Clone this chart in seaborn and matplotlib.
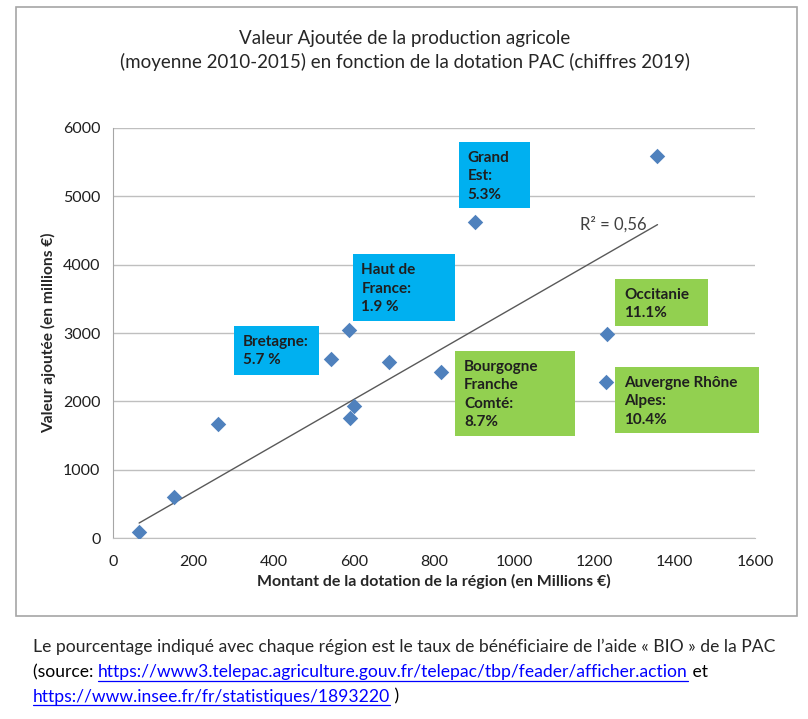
import matplotlib
matplotlib.use("Agg")
import matplotlib.pyplot as plt
import seaborn as sns
import numpy as np
import pandas as pd
from matplotlib.lines import Line2D
from matplotlib.patches import Rectangle

# values (millions €)
dotation = [65, 152, 261, 544, 587, 591, 601, 688, 817, 901, 1231, 1229, 1357]
valeur = [90, 605, 1665, 2625, 3040, 1750, 1930, 2580, 2435, 4620, 2990, 2285, 5585]

# region labels (text, colour group)
labels = ["Grand\nEst:\n5.3%", "Haut de\nFrance:\n1.9 %", "Bretagne:\n5.7 %",
          "Bourgogne\nFranche\nComté:\n8.7%", "Occitanie\n11.1%",
          "Auvergne Rhône\nAlpes:\n10.4%"]
label_groups = ["bleu", "bleu", "bleu", "vert", "vert", "vert"]

df = pd.DataFrame({"dotation": dotation, "valeur": valeur})

# Excel trend line with intercept forced to 0
pente = np.dot(df["dotation"], df["valeur"]) / np.dot(df["dotation"], df["dotation"])
tend = pd.DataFrame({"dotation": [df["dotation"].min(), df["dotation"].max()]})
tend["valeur"] = pente * tend["dotation"]

sns.set_style("white")
plt.rcParams["font.family"] = ["Lato", "DejaVu Sans"]

fig = plt.figure(figsize=(8.08, 7.19), dpi=100)
ax = fig.add_axes([0.1399, 0.2517, 0.7945, 0.5703])

sns.scatterplot(data=df, x="dotation", y="valeur", marker="D", s=62,
                color="#4F81BD", edgecolor="#4F81BD", linewidth=0, ax=ax, zorder=3)
sns.lineplot(data=tend, x="dotation", y="valeur", color="#595959", lw=1.0,
             ax=ax, zorder=2)

ax.set_xlim(0, 1600)
ax.set_ylim(0, 6000)
ax.set_xticks(range(0, 1601, 200))
ax.set_yticks(range(0, 6001, 1000))
ax.tick_params(axis="both", length=0, labelsize=11.5, colors="#1F1F1F")
ax.tick_params(axis="x", pad=12)
ax.tick_params(axis="y", pad=9)
ax.yaxis.grid(True, color="#BFBFBF", lw=1)
ax.xaxis.grid(False)
for s in ["top", "right"]:
    ax.spines[s].set_visible(False)
ax.spines["left"].set_color("#A6A6A6")
ax.spines["bottom"].set_color("#BFBFBF")

ax.set_xlabel("Montant de la dotation de la région (en Millions €)",
              fontsize=11.5, fontweight="bold", labelpad=4)
ax.set_ylabel("Valeur ajoutée (en millions €)", fontsize=11.2,
              fontweight="bold", labelpad=5)

ax.text(1165, 4583, "R² = 0,56", fontsize=12, color="#404040",
        ha="left", va="center")

colours = {"bleu": "#00B0F0", "vert": "#92D050"}
# label boxes: left, top, right, bottom (data coordinates)
boxes = [(862, 5795, 1039, 4830), (597, 4156, 853, 3180), (302, 3103, 513, 2390),
         (853, 2741, 1152, 1497), (1252, 3795, 1484, 3107), (1252, 2507, 1611, 1537)]
for txt, grp, (x0, y0, x1, y1) in zip(labels, label_groups, boxes):
    ax.add_patch(Rectangle((x0, y1), x1 - x0, y0 - y1, fc=colours[grp], ec="none",
                           zorder=4, clip_on=False))
    ax.text(x0 + 22, y0 - 130, txt, ha="left", va="top", fontsize=11,
            linespacing=1.42, fontweight="bold", color="#1F1F1F", zorder=5)

fig.text(0.501, 0.958, "Valeur Ajoutée de la production agricole\n"
         "(moyenne 2010-2015) en fonction de la dotation PAC (chiffres 2019)",
         ha="center", va="top", fontsize=13.5, linespacing=1.4)

# outer chart border
fig.patches.append(Rectangle((0.0192, 0.1433), 0.967, 0.8463, transform=fig.transFigure,
                             fill=False, ec="#A6A6A6", lw=1.2))

# caption with underlined links
fig.canvas.draw()
r = fig.canvas.get_renderer()
cap_size = 12.6
fig.text(0.041, 0.093, "Le pourcentage indiqué avec chaque région est le taux de "
         "bénéficiaire de l’aide « BIO » de la PAC", fontsize=cap_size,
         va="baseline", ha="left")


def put_pieces(pieces, x0, y0):
    x = x0
    for txt, link in pieces:
        t = fig.text(x, y0, txt, fontsize=cap_size, va="baseline", ha="left",
                     color="#0000FF" if link else "black")
        bb = t.get_window_extent(renderer=r).transformed(fig.transFigure.inverted())
        if link:
            fig.lines.append(Line2D([bb.x0, bb.x1], [y0 - 0.005, y0 - 0.005],
                                    transform=fig.transFigure, color="#0000FF", lw=0.9))
        x = bb.x1


put_pieces([("(source: ", False),
            ("https://www3.telepac.agriculture.gouv.fr/telepac/tbp/feader/afficher.action", True),
            (" et", False)], 0.041, 0.058)
put_pieces([("https://www.insee.fr/fr/statistiques/1893220", True),
            (" )", False)], 0.041, 0.024)

fig.savefig("out.png", dpi=100, facecolor="white")
